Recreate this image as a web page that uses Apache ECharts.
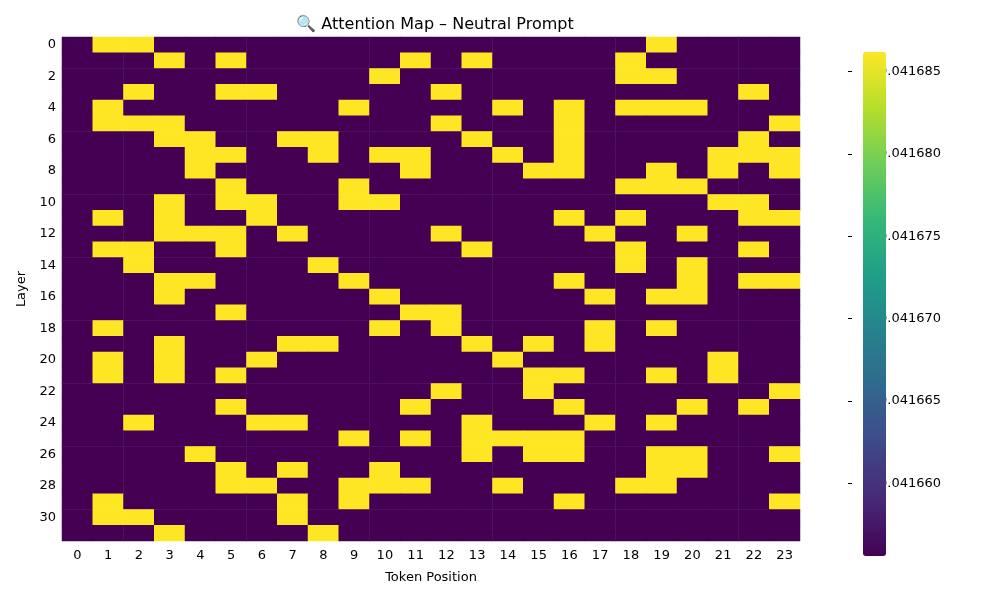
<!DOCTYPE html>
<html><head><meta charset="utf-8">
<script src="https://cdn.jsdelivr.net/npm/echarts@6/dist/echarts.min.js"></script>
<style>html,body{margin:0;padding:0;background:#fff}#c{width:1000px;height:600px}</style>
</head><body><div id="c"></div>
<script>
const tokens = Array.from({length:24},(_,i)=>String(i));
const layers = Array.from({length:32},(_,i)=>String(i));
const lowValue = 0.0416565;
const highValue = 0.0416871;
const highCells = [
 [1,2,19],[3,5,11,13,18],[10,18,19],[2,5,6,12,22],[1,9,14,16,18,19,20],
 [1,2,3,12,16,23],[3,4,7,8,13,16,22],[4,5,8,10,11,14,16,21,22,23],[4,11,15,16,19,21,23],[5,9,18,19,20],
 [3,5,6,9,10,21,22],[1,3,6,16,18,22,23],[3,4,5,7,12,17,20],[1,2,5,13,18,22],[2,8,18,20],
 [3,4,9,16,20,22,23],[3,10,17,19,20],[5,11,12],[1,10,12,17,19],[3,7,8,13,15,17],
 [1,3,6,14,21],[1,3,5,15,16,19,21],[12,15,23],[5,11,16,20,22],[2,6,7,13,17,19],
 [9,11,13,14,15,16],[4,13,15,16,19,20,23],[5,7,10,19,20],[5,6,9,10,11,14,18,19],[1,7,9,16,23],
 [1,2,7],[3,8]
];
const cbTicks = [0.041660,0.041665,0.041670,0.041675,0.041680,0.041685];
const data=[];
for(let r=0;r<32;r++)for(let c=0;c<24;c++)data.push([c,r,highCells[r].includes(c)?highValue:lowValue]);
const viridis=['#440154','#482878','#3e4989','#31688e','#26828e','#1f9e89','#35b779','#6ece58','#b5de2b','#fde725'];
const ch=echarts.init(document.getElementById('c'));
const font='DejaVu Sans';
ch.setOption({
 textStyle:{fontFamily:font},
 title:{text:'🔍 Attention Map – Neutral Prompt',left:430,top:12,textAlign:'center',textStyle:{fontFamily:font,fontSize:16,fontWeight:'normal',color:'#000'}},
 grid:[{left:62,right:200,top:37,bottom:59},{left:848,width:23,top:37,bottom:59}],
 xAxis:[{type:'category',data:tokens,gridIndex:0,name:'Token Position',nameLocation:'middle',nameGap:30,nameTextStyle:{fontSize:13,color:'#000'},
   axisLine:{show:false},axisTick:{alignWithLabel:true,length:4,lineStyle:{color:'#000'}},axisLabel:{color:'#000',fontSize:13},splitLine:{show:false}},
  {type:'value',gridIndex:1,show:false,min:0,max:1}],
 yAxis:[{type:'category',data:layers,inverse:true,gridIndex:0,name:'Layer',nameLocation:'middle',nameGap:34,nameTextStyle:{fontSize:13,color:'#000'},
   axisLine:{show:false},axisTick:{alignWithLabel:true,length:4,lineStyle:{color:'#000'}},axisLabel:{color:'#000',fontSize:13,margin:6},splitLine:{show:false}},
  {type:'value',gridIndex:1,position:'right',min:lowValue,max:highValue,axisLine:{show:false},splitLine:{show:false},
   axisTick:{show:true,length:4,customValues:cbTicks,lineStyle:{color:'#000'}},
   axisLabel:{color:'#000',fontSize:13,customValues:cbTicks,formatter:v=>v.toFixed(6)}}],
 visualMap:{type:'continuous',min:lowValue,max:highValue,seriesIndex:0,left:848,top:37,itemWidth:23,itemHeight:504,calculable:false,showLabel:false,text:null,inRange:{color:viridis}},
 series:[{type:'heatmap',data:data,xAxisIndex:0,yAxisIndex:0,itemStyle:{borderWidth:0},emphasis:{disabled:true}}]
});
</script></body></html>
